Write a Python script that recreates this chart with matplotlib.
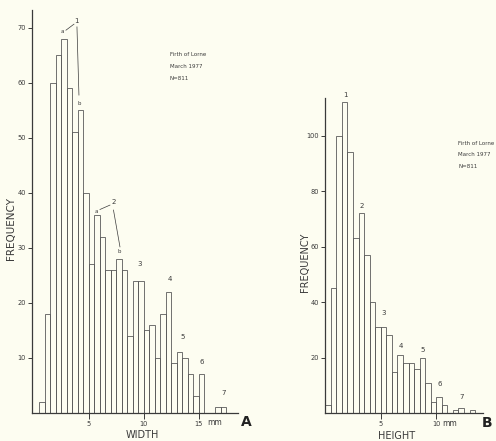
import matplotlib
matplotlib.use("Agg")
import matplotlib.pyplot as plt
import numpy as np

# ---- data ----
width_bin_start = 0.5
width_bin = 0.5
width_counts = [2, 18, 60, 65, 68, 59, 51, 55, 40, 27, 36, 32, 26, 26, 28, 26,
                14, 24, 24, 15, 16, 10, 18, 22, 9, 11, 10, 7, 3, 7, 0, 0, 1, 1]

height_bin_start = 0.0
height_bin = 0.5
height_counts = [3, 45, 100, 112, 94, 63, 72, 57, 40, 31, 31, 28, 15, 21, 18, 18,
                 16, 20, 11, 4, 6, 3, 0, 1, 2, 0, 1]

width_yticks = [10, 20, 30, 40, 50, 60, 70]
width_xticks = [5, 10, 15]
height_yticks = [20, 40, 60, 80, 100]
height_xticks = [5, 10]

# cohort labels (text, x, y) in data coords
width_labels = [("3", 9.57, 27.1), ("4", 12.36, 24.4), ("5", 13.52, 13.8),
                ("6", 15.3, 9.3), ("7", 17.27, 3.6)]
height_labels = [("1", 1.84, 114.7), ("2", 3.31, 74.5), ("3", 5.26, 36.0),
                 ("4", 6.82, 24.2), ("5", 8.74, 22.8), ("6", 10.33, 10.6),
                 ("7", 12.32, 5.7)]

BG = "#fdfdf1"
INK = "#3a3a3a"
BARC = "#5a5a5a"

W, H = 496, 441
fig = plt.figure(figsize=(W / 100, H / 100), dpi=100, facecolor=BG)


def px_rect(left, bottom_px_from_top, width, height):
    return [left / W, (H - bottom_px_from_top) / H, width / W, height / H]


def style_ax(ax):
    ax.set_facecolor("none")
    for s in ["top", "right"]:
        ax.spines[s].set_visible(False)
    for s in ["left", "bottom"]:
        ax.spines[s].set_color(INK)
        ax.spines[s].set_linewidth(0.9)
    ax.tick_params(axis="both", direction="out", colors=INK, labelsize=4.8,
                   width=0.7, pad=1.5)
    ax.tick_params(axis="y", length=3)
    ax.tick_params(axis="x", length=4)


# ---- left: WIDTH ----
axA = fig.add_axes(px_rect(32.3, 413, 205.7, 403))
n = len(width_counts)
xs = width_bin_start + width_bin * np.arange(n)
axA.bar(xs, width_counts, width=width_bin, align="edge", facecolor="none",
        edgecolor=BARC, linewidth=0.6)
axA.set_xlim(-0.15, 18.55)
axA.set_ylim(0, 73.27)
axA.set_yticks(width_yticks)
axA.set_xticks(width_xticks)
axA.set_xticklabels([str(t) for t in width_xticks])
style_ax(axA)

kw = dict(fontsize=5, color=INK, ha="center", va="center", clip_on=False)
axA.text(3.88, 71.3, "1", **kw)
axA.text(2.6, 69.3, "a", fontsize=4, color=INK, ha="center", va="center")
axA.plot([2.91, 3.64], [69.6, 70.7], color=INK, lw=0.5, clip_on=False)
axA.plot([3.91, 4.09], [70.2, 57.8], color=INK, lw=0.5, clip_on=False)
axA.text(4.12, 56.3, "b", fontsize=4, color=INK, ha="center", va="center")
axA.text(7.21, 38.3, "2", **kw)
axA.text(5.66, 36.7, "a", fontsize=4, color=INK, ha="center", va="center")
axA.plot([6.0, 6.91], [37.0, 37.8], color=INK, lw=0.5)
axA.plot([7.23, 7.82], [36.9, 30.2], color=INK, lw=0.5)
axA.text(7.73, 29.3, "b", fontsize=4, color=INK, ha="center", va="center")
for t, x, y in width_labels:
    axA.text(x, y, t, **kw)

# ---- right: HEIGHT ----
axB = fig.add_axes(px_rect(325.3, 413.2, 157.6, 315))
m = len(height_counts)
xs2 = height_bin_start + height_bin * np.arange(m)
axB.bar(xs2, height_counts, width=height_bin, align="edge", facecolor="none",
        edgecolor=BARC, linewidth=0.6)
axB.set_xlim(0, 14.2)
axB.set_ylim(0, 113.5)
axB.set_yticks(height_yticks)
axB.set_xticks(height_xticks)
axB.set_xticklabels([str(t) for t in height_xticks])
style_ax(axB)
for t, x, y in height_labels:
    axB.text(x, y, t, **kw)

# ---- figure texts ----
def ftext(x, y, s, **k):
    fig.text(x / W, 1 - y / H, s, **k)

ftext(215, 422.5, "mm", fontsize=5.5, color=INK, ha="center", va="center")
ftext(450, 423.5, "mm", fontsize=5.5, color=INK, ha="center", va="center")
ftext(11, 228, "FREQUENCY", rotation=90, fontsize=7.5, color=INK,
      ha="center", va="center")
ftext(305, 262, "FREQUENCY", rotation=90, fontsize=7, color=INK,
      ha="center", va="center")
ftext(142, 435, "WIDTH", fontsize=7, color=INK, ha="center", va="center")
ftext(397, 436, "HEIGHT", fontsize=7, color=INK, ha="center", va="center")
ftext(246, 422.5, "A", fontsize=10, fontweight="bold", color="#222222",
      ha="center", va="center")
ftext(487, 423, "B", fontsize=10, fontweight="bold", color="#222222",
      ha="center", va="center")

for i, s in enumerate(["Firth of Lorne", "March 1977", "N=811"]):
    ftext(170, 55 + 11.5 * i, s, fontsize=4, color=INK, ha="left", va="center")
    ftext(458.5, 144 + 11 * i, s, fontsize=4, color=INK, ha="left", va="center")

fig.savefig("out.png", dpi=100, facecolor=BG)
